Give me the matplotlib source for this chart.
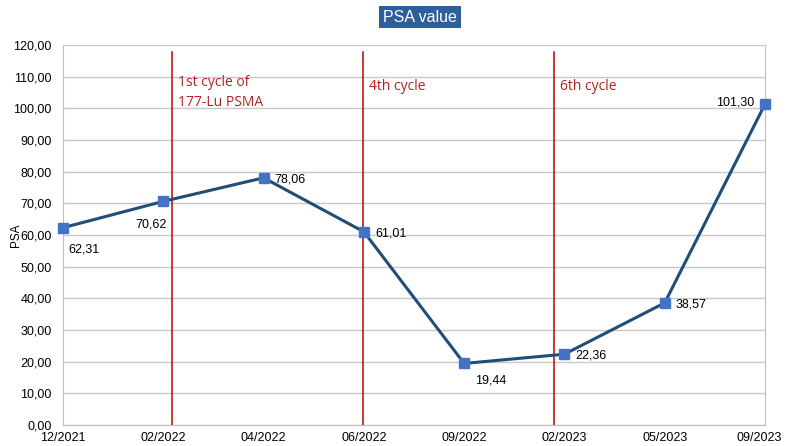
import matplotlib
matplotlib.use("Agg")
import matplotlib.pyplot as plt
from matplotlib.transforms import ScaledTranslation

dates = ["12/2021", "02/2022", "04/2022", "06/2022", "09/2022", "02/2023", "05/2023", "09/2023"]
psa = [62.31, 70.62, 78.06, 61.01, 19.44, 22.36, 38.57, 101.30]
cycle_pos = [1.09, 2.99, 4.9]
cycle_labels = ["1st cycle of\n177-Lu PSMA", "4th cycle", "6th cycle"]
cycle_text_y = [110.6, 109.3, 109.3]
yticks = list(range(0, 121, 10))

plt.rcParams['font.family'] = ['Liberation Sans', 'DejaVu Sans']

fig = plt.figure(figsize=(7.86, 4.46), dpi=100)
ax = fig.add_axes([63/786, 1-425/446, (765-63)/786, (425-45)/446])
x = list(range(len(dates)))
ax.plot(x, psa, color='#1F4E79', lw=2.2, marker='s', ms=6.5,
        mfc='#4472C4', mec='#4472C4', zorder=5, clip_on=False)

ax.set_xlim(0, len(dates)-1)
ax.set_ylim(0, 120)
ax.set_yticks(yticks)
ax.set_yticklabels([f"{v},00" for v in yticks], fontsize=9)
ax.set_xticks(x)
ax.set_xticklabels(dates, fontsize=9)
ax.tick_params(length=0)
ax.tick_params(axis='y', pad=8)
ax.tick_params(axis='x', pad=5)
lbl = ax.get_xticklabels()[-1]
lbl.set_transform(lbl.get_transform() + ScaledTranslation(-4/72, 0, fig.dpi_scale_trans))
ax.grid(axis='y', color='#C8C8C8', lw=1)
ax.set_axisbelow(True)
for s in ax.spines.values():
    s.set_color('#BFBFBF')
ax.spines['top'].set_visible(False)
ax.set_ylabel("PSA", fontsize=8.5)
ax.yaxis.set_label_coords((22-63)/702, 0.5)

for cp, cl, ty in zip(cycle_pos, cycle_labels, cycle_text_y):
    ax.plot([cp, cp], [0, 117.8], color='#C00000', lw=1.1, zorder=3)
    ax.text(cp + 0.06, ty, cl, color='#B22222', fontsize=10, va='top',
            ha='left', family=['Open Sans', 'DejaVu Sans'], linespacing=1.5)

offsets = [(4, -16, 'left'), (-20, -17, 'left'), (8, -1, 'left'), (8, -1, 'left'),
           (8, -12, 'left'), (8, -1, 'left'), (8, -1, 'left'), (-8, 1, 'right')]
for xi, v, (dx, dy, ha) in zip(x, psa, offsets):
    ax.annotate(f"{v:.2f}".replace('.', ','), (xi, v), xytext=(dx, dy),
                textcoords='offset points', ha=ha, va='center', fontsize=9)

fig.text(420/786, 1-17/446, "PSA value", color='white', fontsize=11.5,
         ha='center', va='center',
         bbox=dict(boxstyle='square,pad=0.25', fc='#2E5F9B', ec='none'))

fig.savefig("out.png", dpi=100)
